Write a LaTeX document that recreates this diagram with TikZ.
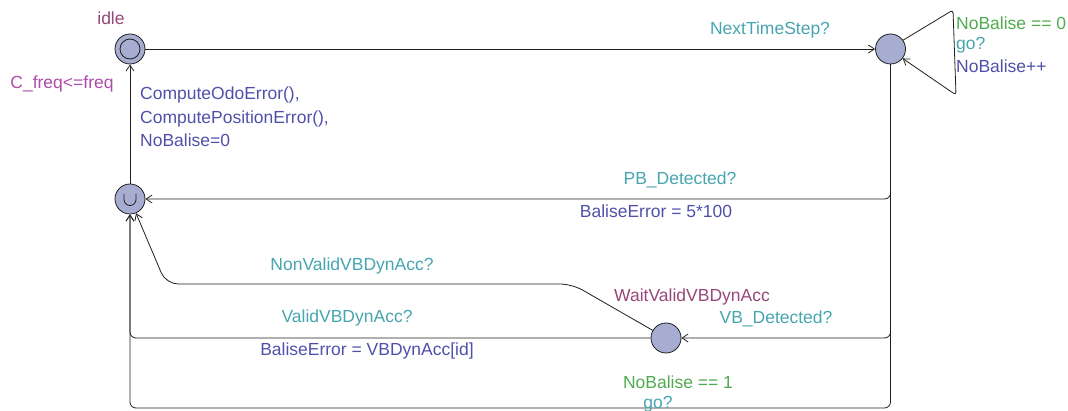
\documentclass[tikz,border=0pt]{standalone}
\usepackage{fontspec}
\setmainfont{Liberation Sans}
\usetikzlibrary{arrows.meta}
\definecolor{locfill}{RGB}{166,173,208}
\definecolor{namecol}{RGB}{150,70,120}
\definecolor{invcol}{RGB}{175,75,170}
\definecolor{guardcol}{RGB}{80,170,80}
\definecolor{synccol}{RGB}{70,165,175}
\definecolor{updcol}{RGB}{80,80,170}
\definecolor{linecol}{RGB}{30,30,30}
\begin{document}
\begin{tikzpicture}[x=1pt,y=-1pt,
  every node/.style={font=\fontsize{17.5}{23.5}\selectfont, inner sep=0pt},
  loc/.style={circle, draw=linecol, fill=locfill, line width=0.8pt, minimum size=30pt},
  edge/.style={draw=linecol, line width=0.8pt, -{Straight Barb[length=6pt,width=8pt,line width=0.8pt]}},
  nm/.style={text=namecol},
  inv/.style={text=invcol},
  grd/.style={text=guardcol},
  syn/.style={text=synccol},
  upd/.style={text=updcol}]
\useasboundingbox (0,0) rectangle (1068,411);
% locations
\node[loc] (idle) at (130,49) {};
\node[circle, draw=linecol, line width=0.8pt, minimum size=20pt] (idlein) at (idle.center) {};
\node[loc] (A) at (890.5,49) {};
\node[loc] (U) at (130,199) {};
\node[loc] (W) at (666,338) {};
\draw[linecol, line width=0.8pt] ([shift={(-6pt,5pt)}]U.center) -- ([shift={(-6pt,-0.5pt)}]U.center)
  arc[start angle=180, end angle=360, radius=6pt] -- ([shift={(6pt,5pt)}]U.center);
% edges
\draw[edge] (idle) -- (A);
\draw[edge, rounded corners=3pt] (A.35) -- (953,10) -- (956,95) -- (A.-38);
\draw[edge, rounded corners=6pt] (A) -- (890.5,199) -- (U);
\draw[edge, rounded corners=6pt] (A) -- (890.5,338) -- (W);
\draw[edge, rounded corners=6pt] (A) -- (890.5,408) -- (130,408) -- (U);
\draw[edge, rounded corners=6pt] (W) -- (130,338) -- (U);
\draw[edge, rounded corners=12pt] (W) -- (572,284) -- (166,284) -- (U);
\draw[edge] (U) -- (idle);
% labels
\node[nm] (nidle) at (111,18) {idle};
\node[inv] (iidle) at (62,84) {C\_freq<=freq};
\node[nm] (nw) at (692,297) {WaitValidVBDynAcc};
\node[syn] (s1) at (770,30) {NextTimeStep?};
\node[grd, anchor=west] (g2) at (956,23) {NoBalise == 0};
\node[syn, anchor=west] (s2) at (956,45) {go?};
\node[upd, anchor=west] (u2) at (956,66) {NoBalise++};
\node[upd, anchor=west, align=left] (u3) at (140,117) {ComputeOdoError(),\\ComputePositionError(),\\NoBalise=0};
\node[syn] (s4) at (680,180) {PB\_Detected?};
\node[upd] (u4) at (656,211) {BaliseError = 5*100};
\node[syn] (s5) at (352,266) {NonValidVBDynAcc?};
\node[syn] (s6) at (347,318) {ValidVBDynAcc?};
\node[upd] (u6) at (367,351) {BaliseError = VBDynAcc[id]};
\node[syn] (s7) at (776,319) {VB\_Detected?};
\node[grd] (g8) at (678,382) {NoBalise == 1};
\node[syn] (s8) at (658,404) {go?};
\end{tikzpicture}
\end{document}
